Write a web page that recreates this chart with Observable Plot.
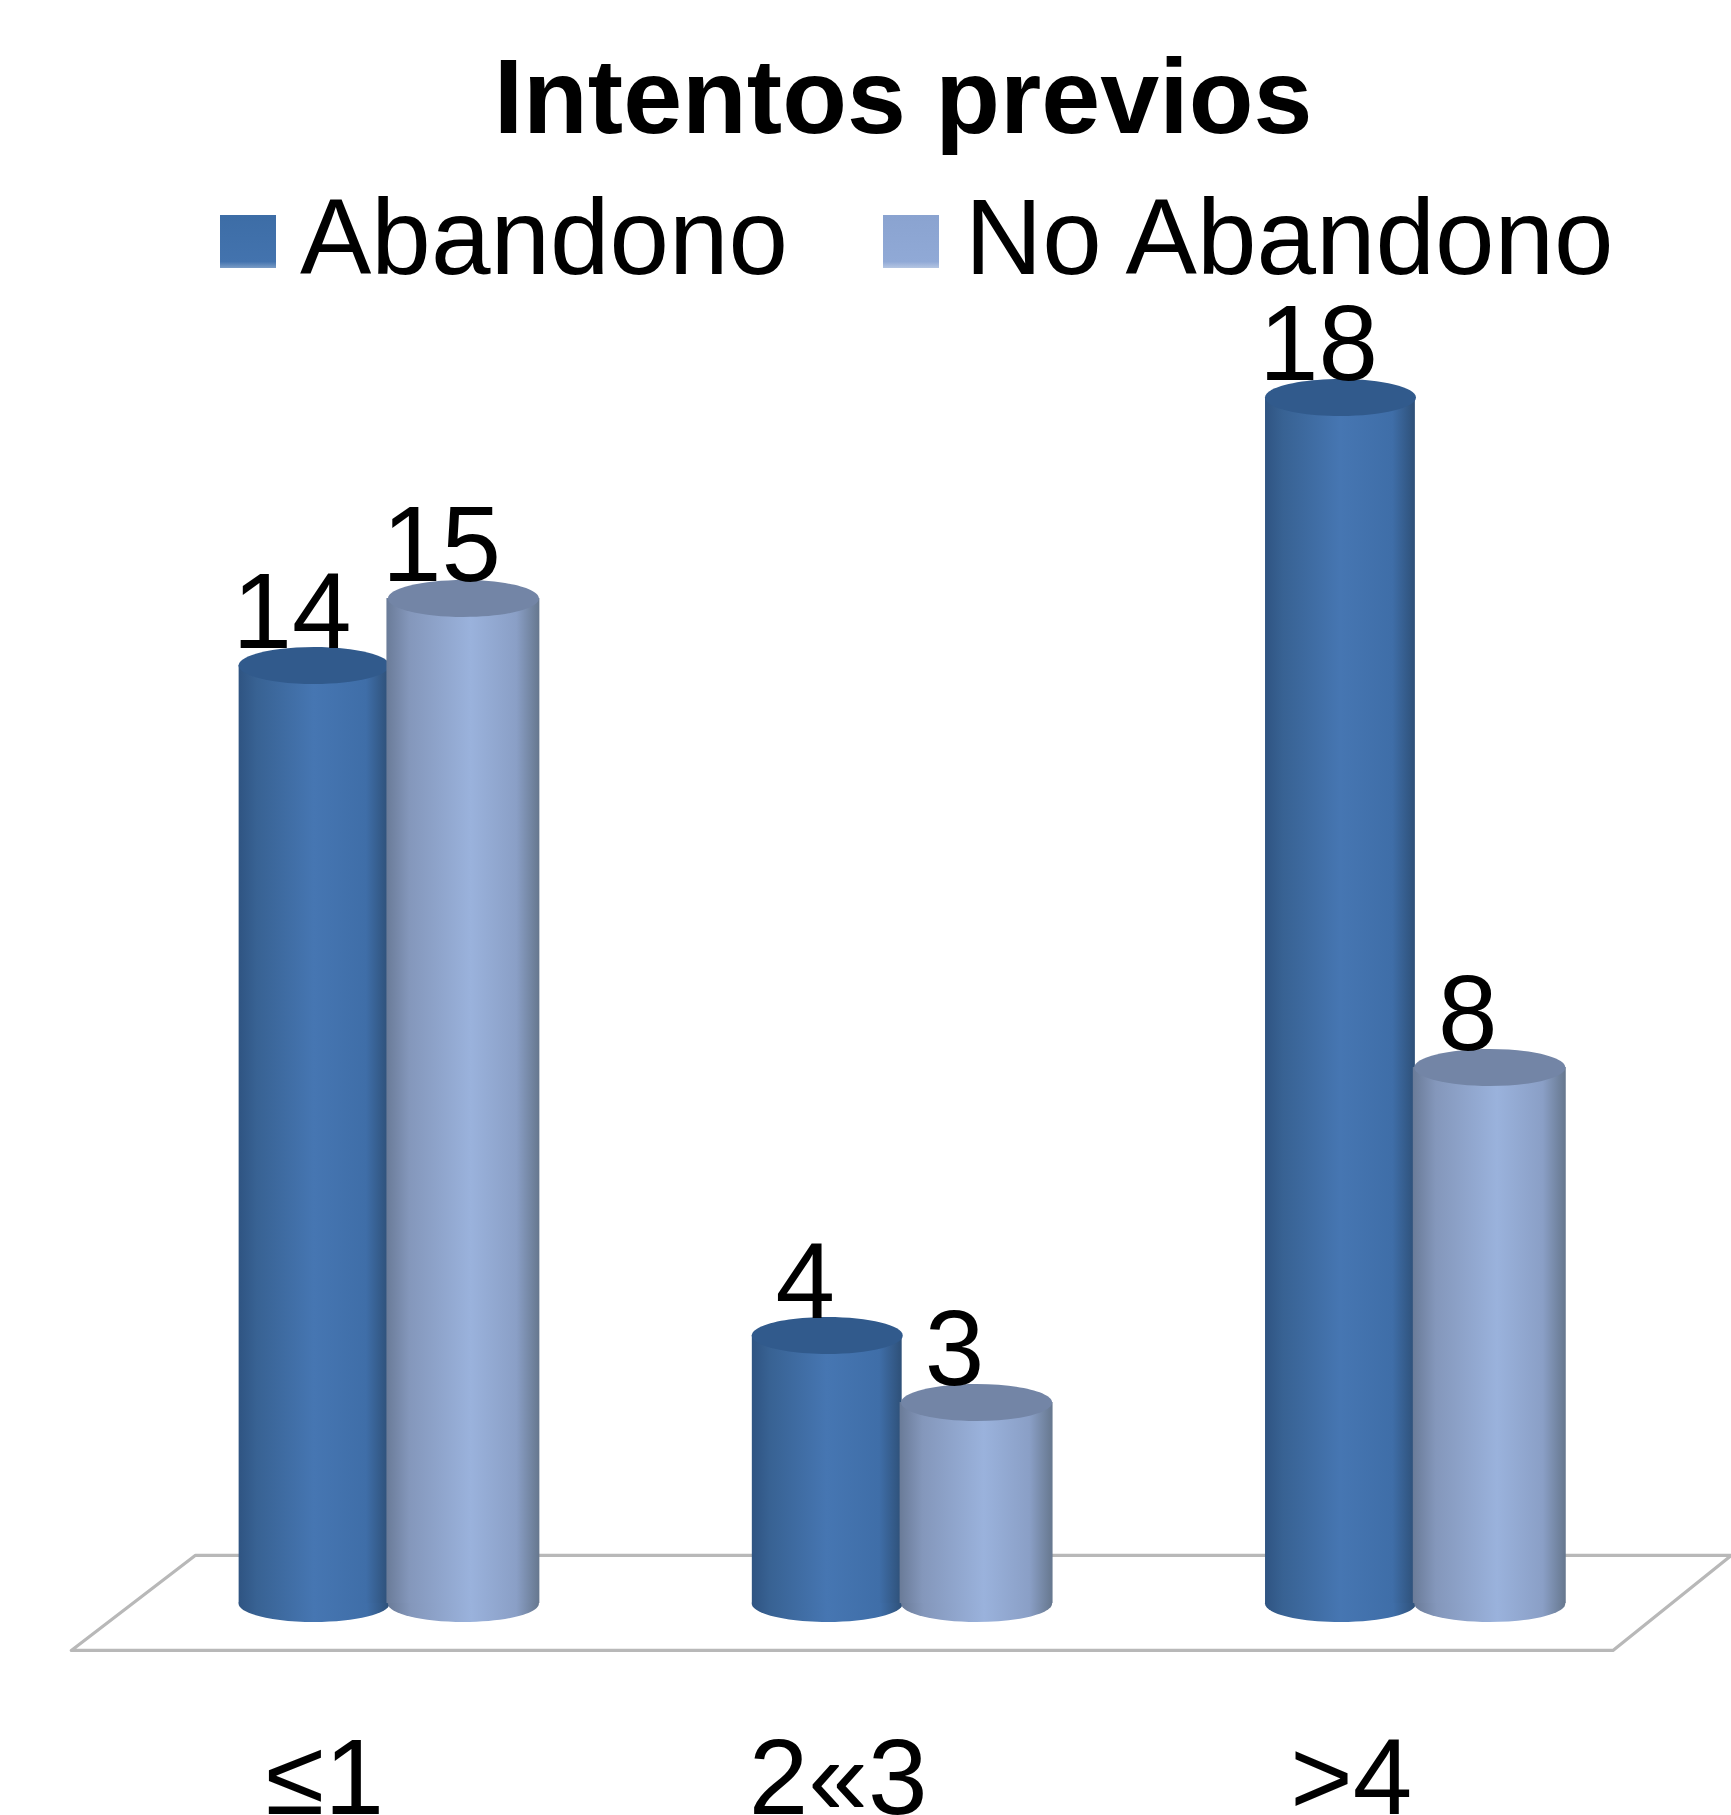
<!DOCTYPE html>
<html>
<head>
<meta charset="utf-8">
<script src="https://cdn.jsdelivr.net/npm/d3@7"></script>
<script src="https://cdn.jsdelivr.net/npm/@observablehq/plot@0.6"></script>
<style>
  html, body { margin: 0; padding: 0; background: #fff; }
  body { width: 1731px; font-family: "Liberation Sans", Arial, sans-serif; color: #000; }
  #head { position: relative; height: 270px; width: 1731px; z-index: 2; }
  #head div { position: absolute; line-height: 1em; white-space: nowrap; }
  #title { left: 0; width: 1806px; text-align: center; top: 43px; font-size: 106px; font-weight: bold; }
  .lab { top: 184px; font-size: 107px; }
  .sw { top: 215px; width: 56px; height: 53px; }
  #sw1 { left: 220px; background: linear-gradient(#3d6da6, #4373ae 88%, #7a9cc6); }
  #sw2 { left: 883px; background: linear-gradient(#8aa3d0, #90a9d6 88%, #b4c5e2); }
  svg { display: block; }
</style>
</head>
<body>
<div id="head">
  <div id="title">Intentos previos</div>
  <div class="sw" id="sw1"></div><div class="lab" style="left:300px">Abandono</div>
  <div class="sw" id="sw2"></div><div class="lab" style="left:965px">No Abandono</div>
</div>
<div id="chart"></div>
<script>
const categories = ["≤1", "2«3", ">4"];
const abandono = [14, 4, 18];
const noAbandono = [15, 3, 8];
const floorX = [-0.615, 2.389, 2.620, -0.373, -0.615];
const floorY = [-0.70, -0.70, 0.72, 0.72, -0.70];

const rows = (vals) => vals.map((v, i) => ({ i, v }));
const dark = rows(abandono);
const light = rows(noAbandono);

const defs = () => d3.create("svg:defs").html(`
  <linearGradient id="gDark" x1="0" x2="1" y1="0" y2="0">
    <stop offset="0" stop-color="#2f5482"/>
    <stop offset="0.12" stop-color="#386293"/>
    <stop offset="0.5" stop-color="#4676b2"/>
    <stop offset="0.85" stop-color="#3f6ea8"/>
    <stop offset="1" stop-color="#2e5078"/>
  </linearGradient>
  <linearGradient id="gLight" x1="0" x2="1" y1="0" y2="0">
    <stop offset="0" stop-color="#6a7b98"/>
    <stop offset="0.15" stop-color="#8497bb"/>
    <stop offset="0.55" stop-color="#9ab2dc"/>
    <stop offset="0.85" stop-color="#8a9fc6"/>
    <stop offset="1" stop-color="#66778e"/>
  </linearGradient>`).node();

// flattened circle: the cylinder's end caps
const ellipse = {
  draw(ctx, size) {
    const rx = Math.sqrt(size / Math.PI), ry = rx * 0.245, k = 0.5523;
    ctx.moveTo(-rx, 0);
    ctx.bezierCurveTo(-rx, -ry * k, -rx * k, -ry, 0, -ry);
    ctx.bezierCurveTo(rx * k, -ry, rx, -ry * k, rx, 0);
    ctx.bezierCurveTo(rx, ry * k, rx * k, ry, 0, ry);
    ctx.bezierCurveTo(-rx * k, ry, -rx, ry * k, -rx, 0);
    ctx.closePath();
  }
};

function cylinder(data, x1, x2, grad, cap) {
  const xc = (d) => (x1(d) + x2(d)) / 2;
  return [
    Plot.dot(data, { x: xc, y: () => 0, r: 75.5, symbol: ellipse, fill: `url(#${grad})`, stroke: "none" }),
    Plot.rect(data, { x1, x2, y1: () => 0, y2: "v", fill: `url(#${grad})` }),
    Plot.dot(data, { x: xc, y: "v", r: 75.5, symbol: ellipse, fill: cap, stroke: "none" })
  ];
}

const valueLabels = (data, x) => Plot.text(data, {
  x, y: "v", text: (d) => String(d.v),
  fontSize: 107, fontFamily: "Liberation Sans", fill: "#000",
  textAnchor: "middle", lineAnchor: "bottom", dx: -22, dy: -18
});

const darkX1 = (d) => d.i - 0.288, darkX2 = (d) => d.i + 0.004;
const lightX1 = (d) => d.i, lightX2 = (d) => d.i + 0.298;

const plot = Plot.plot({
  width: 1731, height: 1545,
  marginTop: 0, marginRight: 0, marginBottom: 0, marginLeft: 0,
  style: { background: "transparent", overflow: "visible" },
  x: { domain: [-0.753, 2.620], axis: null },
  y: { domain: [-3.164, 19.896], axis: null },
  marks: [
    defs,
    Plot.line(floorX.map((x, k) => ({ x, y: floorY[k] })), { x: "x", y: "y", stroke: "#b8b8b8", strokeWidth: 3.2, curve: "linear" }),
    ...cylinder(dark, darkX1, darkX2, "gDark", "#315a8c"),
    ...cylinder(light, lightX1, lightX2, "gLight", "#7385a6"),
    valueLabels(dark, (d) => (darkX1(d) + darkX2(d)) / 2),
    valueLabels(light, (d) => (lightX1(d) + lightX2(d)) / 2),
    Plot.text(categories, {
      x: (d, i) => i, text: (d) => d, frameAnchor: "bottom",
      fontSize: 107, fontFamily: "Liberation Sans", fill: "#000",
      textAnchor: "middle", lineAnchor: "bottom", dx: -62, dy: -2
    })
  ]
});
document.getElementById("chart").appendChild(plot);
</script>
</body>
</html>
